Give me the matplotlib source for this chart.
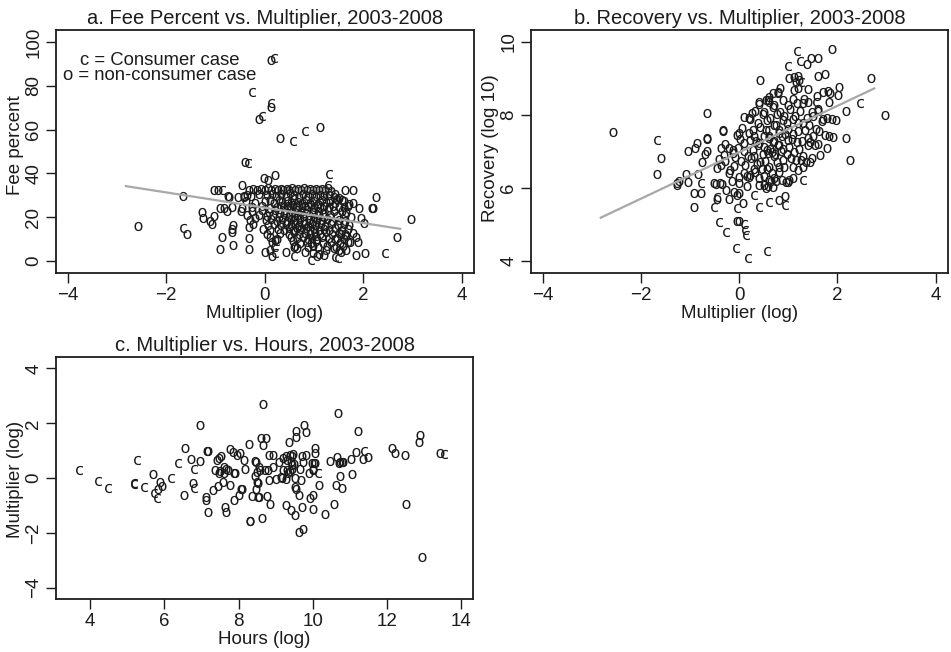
import matplotlib
matplotlib.use("Agg")
import matplotlib.pyplot as plt
import numpy as np

plt.rcParams["font.family"] = ["Liberation Sans", "DejaVu Sans"]

# ---- a. fee percent vs multiplier (log) ----
fee_o = [
    (-2.57, 16.0), (-1.66, 29.7), (-1.58, 12.3), (-1.04, 32.4), (-0.94, 32.4),
    (-1.28, 22.4), (-1.25, 19.5), (-1.12, 18.3), (-1.08, 17.1), (-1.03, 20.6),
    (-0.91, 24.4), (-0.82, 24.4), (-0.75, 29.6), (-0.73, 29.0), (-0.67, 24.5),
    (-0.76, 22.8), (-0.86, 10.9), (-0.90, 5.6), (-0.65, 7.3), (-0.67, 14.4),
    (-0.65, 16.2), (-0.66, 13.4), (-0.46, 34.6), (-0.33, 10.6), (-0.33, 5.6),
    (-0.33, 15.3), (-0.54, 29.4), (-0.43, 29.4), (-0.47, 24.2), (-0.40, 45.4),
    (0.12, 92.0), (0.13, 70.5), (-0.12, 64.8), (1.12, 61.2), (0.30, 56.3),
    (0.20, 39.4), (-0.02, 37.7), (0.07, 37.0), (2.97, 19.2), (2.68, 11.0),
    (2.26, 29.2), (2.17, 24.4), (2.19, 24.0), (2.03, 3.7), (2.01, 17.2),
    (1.96, 19.5), (1.91, 24.2), (1.86, 11.0), (1.90, 8.8), (1.85, 2.9),
    (1.79, 26.3), (1.79, 32.4), (1.63, 32.4), (0.15, 2.1), (0.43, 4.3),
    (0.01, 4.3), (0.10, 5.0), (0.81, 4.3), (0.98, 3.6), (1.07, 2.3),
    (1.10, 3.2), (1.20, 2.6), (1.55, 4.0), (1.65, 4.8), (1.69, 8.8),
    (1.66, 11.5), (1.55, 12.5), (1.42, 10.2), (1.40, 6.0), (1.50, 5.2),
    (0.62, 6.8), (0.65, 5.9), (1.25, 5.0),
    # 33% band
    (-0.32, 32.6), (-0.24, 33.0), (-0.16, 32.4), (-0.08, 32.8), (0.00, 32.3),
    (0.07, 33.1), (0.13, 32.5), (0.20, 32.9), (0.26, 32.4), (0.32, 33.0),
    (0.38, 32.6), (0.45, 32.9), (0.50, 32.3), (0.56, 33.1), (0.62, 32.5),
    (0.68, 32.8), (0.74, 32.4), (0.80, 33.2), (0.86, 32.6), (0.92, 32.9),
    (0.98, 32.4), (1.04, 33.0), (1.10, 32.5), (1.16, 32.8), (1.22, 32.3),
    (1.28, 33.4), (1.34, 31.8), (1.42, 30.5),
    # around 30%
    (-0.42, 29.8), (-0.36, 30.3), (-0.28, 29.5), (-0.12, 30.6), (0.05, 29.9),
    (0.14, 30.8), (0.22, 29.6), (0.34, 30.4), (0.44, 29.7), (0.52, 30.9),
    (0.60, 30.1), (0.70, 29.4), (0.78, 30.6), (0.88, 29.8), (0.96, 30.4),
    (1.04, 29.5), (1.12, 30.2), (1.20, 29.7), (1.30, 30.3), (1.40, 29.2),
    (1.50, 28.6), (1.56, 27.8),
    (-0.38, 27.6), (-0.20, 26.6), (0.00, 27.2), (0.10, 28.0), (0.18, 26.4),
    (0.28, 27.9), (0.36, 26.8), (0.46, 27.6), (0.54, 26.5), (0.60, 28.2),
    (0.68, 27.0), (0.76, 26.3), (0.84, 27.8), (0.92, 26.7), (1.00, 27.4),
    (1.08, 26.2), (1.16, 27.9), (1.24, 26.8), (1.32, 27.5), (1.42, 26.4),
    (1.60, 27.2), (1.72, 26.0), (1.46, 28.3),
    # 25% band
    (0.24, 24.8), (0.32, 25.3), (0.40, 24.6), (0.47, 25.1), (0.52, 24.5),
    (0.58, 25.4), (0.63, 24.8), (0.70, 25.2), (0.76, 24.6), (0.82, 25.3),
    (0.88, 24.9), (0.94, 25.4), (1.00, 24.7), (1.06, 25.1), (1.12, 24.4),
    (1.20, 25.2), (1.30, 24.6), (1.38, 25.3), (1.50, 24.5), (1.60, 24.8),
    (1.70, 25.2), (-0.05, 25.0), (0.10, 24.2), (-0.25, 24.8),
    (-0.48, 23.0), (-0.26, 22.6), (-0.06, 23.4), (0.08, 22.2), (0.20, 23.2),
    (0.30, 22.0), (0.42, 23.5), (0.56, 22.4), (0.66, 23.1), (0.74, 22.2),
    (0.86, 23.3), (0.98, 22.5), (1.08, 23.0), (1.18, 22.1), (1.28, 23.4),
    (1.40, 22.6), (1.56, 23.0), (1.66, 22.2),
    (-0.36, 20.8), (-0.12, 21.2), (0.04, 20.4), (0.16, 21.0), (0.28, 20.2),
    (0.40, 21.3), (0.50, 20.6), (0.60, 20.0), (0.68, 21.1), (0.78, 20.4),
    (0.90, 21.2), (1.00, 20.3), (1.10, 20.9), (1.20, 20.1), (1.32, 21.0),
    (1.46, 20.4), (1.62, 20.8), (1.76, 20.2),
    (-0.30, 18.8), (-0.20, 19.4), (0.02, 18.6), (0.12, 19.2), (0.24, 18.4),
    (0.36, 19.0), (0.46, 18.2), (0.54, 19.3), (0.62, 18.6), (0.72, 19.1),
    (0.80, 18.3), (0.90, 18.9), (0.98, 18.1), (1.06, 19.2), (1.16, 18.5),
    (1.26, 19.0), (1.36, 18.2), (1.50, 18.8), (1.64, 18.4),
    (-0.24, 16.8), (0.06, 16.4), (0.18, 17.0), (0.32, 16.2), (0.44, 16.9),
    (0.54, 16.3), (0.62, 17.2), (0.70, 16.5), (0.80, 16.9), (0.88, 16.1),
    (0.96, 17.0), (1.04, 16.4), (1.14, 16.8), (1.22, 16.0), (1.34, 16.7),
    (1.48, 16.2), (1.60, 16.9), (1.72, 16.4),
    (-0.04, 14.6), (0.10, 14.2), (0.26, 14.8), (0.40, 14.3), (0.50, 15.0),
    (0.58, 14.2), (0.66, 14.9), (0.74, 14.4), (0.84, 15.0), (0.92, 14.2),
    (1.00, 14.7), (1.10, 14.1), (1.20, 14.8), (1.30, 14.3), (1.42, 14.9),
    (1.56, 14.2), (1.70, 14.6),
    (0.04, 12.4), (0.30, 12.8), (0.50, 12.2), (0.60, 13.0), (0.70, 12.4),
    (0.82, 12.9), (0.92, 12.2), (1.02, 12.8), (1.12, 12.3), (1.24, 13.0),
    (1.36, 12.4), (1.50, 12.9), (1.62, 12.2), (1.80, 12.6),
    (0.10, 10.8), (0.24, 10.2), (0.54, 10.9), (0.66, 10.3), (0.78, 10.8),
    (0.88, 10.1), (0.96, 10.7), (1.06, 10.2), (1.16, 10.8), (1.30, 10.3),
    (1.46, 10.7), (1.60, 10.1),
    (0.14, 8.6), (0.20, 9.4), (0.58, 8.9), (0.72, 8.3), (0.86, 8.8),
    (0.94, 8.2), (1.04, 8.9), (1.18, 8.4), (1.34, 8.8), (1.52, 8.3),
    (1.74, 8.6),
    (0.60, 6.6), (0.88, 6.3), (0.98, 6.9), (1.08, 6.4), (1.26, 6.8),
    (1.44, 6.2), (1.58, 6.7),
]
fee_c = [
    (0.19, 92.5), (-0.26, 77.3), (0.13, 72.0), (-0.05, 66.4), (0.81, 59.4),
    (0.57, 54.8), (-0.35, 44.7), (1.30, 39.6), (1.29, 34.7), (-0.87, 32.4),
    (-1.67, 15.1), (2.45, 3.8), (1.49, 1.5), (0.93, 0.5), (0.60, 2.3),
    (0.19, 6.2), (0.20, 3.6), (1.43, 1.8), (0.22, 9.0), (1.02, 11.6),
]

# ---- b. recovery (log 10) vs multiplier (log) ----
rec_o = [
    (-2.58, 7.53), (-1.60, 6.83), (-1.67, 6.38), (-1.27, 6.07), (-1.27, 6.15),
    (-1.23, 6.18), (-1.04, 6.17), (-1.09, 6.38), (-1.04, 7.01), (-0.90, 7.09),
    (-0.87, 7.24), (-0.93, 5.85), (-0.77, 5.85), (-0.93, 5.48), (-0.66, 8.05),
    (-0.66, 7.36), (-0.66, 7.00), (-0.70, 6.93), (-0.75, 6.72), (-0.83, 6.38),
    (-0.33, 7.57), (-0.52, 6.15), (-0.46, 5.70), (-0.05, 5.10), (0.00, 5.10),
    (0.07, 5.58), (0.81, 5.67), (0.93, 5.78), (1.10, 6.26), (1.00, 6.17),
    (2.25, 6.77), (2.97, 8.00), (2.68, 9.01), (2.18, 8.11), (2.17, 7.38),
    (2.01, 8.55), (2.03, 8.76), (1.96, 7.86), (1.88, 9.80), (1.90, 7.39),
    (1.74, 9.12), (1.61, 9.07), (1.61, 9.55), (1.47, 9.55), (1.38, 9.40),
    (0.42, 8.96), (1.15, 8.90), (1.12, 9.05), (1.20, 8.75), (1.80, 8.65),
    (1.85, 8.60), (1.75, 7.45), (1.78, 7.10), (1.65, 6.90), (1.45, 6.70),
    (1.35, 6.70), (1.45, 7.25), (1.60, 7.20), (1.70, 7.90), (1.60, 8.10),
    (0.55, 6.00), (0.58, 6.05), (0.75, 6.20), (0.22, 6.35), (0.15, 6.05),
    (0.00, 5.85), (-0.05, 5.80), (-0.10, 5.90), (-0.20, 5.70), (-0.28, 5.95),
    (-0.35, 6.10), (-0.40, 6.15), (-0.45, 6.55), (-0.42, 6.80), (-0.38, 7.10),
    (-0.30, 7.20), (-0.20, 7.10), (-0.12, 6.95), (-0.10, 6.60), (0.68, 8.60),
    (0.78, 8.60), (0.60, 8.35), (0.55, 8.40), (0.40, 8.30), (0.32, 8.10),
    (0.25, 8.05), (0.10, 7.95), (0.05, 7.65), (-0.05, 7.45), (0.00, 7.50),
    (-0.33, 7.59), (-0.66, 7.33),
    # core of the cloud
    (-0.47, 6.10), (-0.31, 6.90), (-0.37, 6.62), (-0.20, 6.40), (-0.30, 6.75),
    (-0.12, 7.05), (-0.18, 6.50), (-0.14, 6.20), (-0.02, 7.10), (-0.09, 6.85),
    (0.00, 6.30), (0.01, 7.35), (0.09, 7.02), (0.03, 6.73), (0.10, 6.42),
    (0.00, 6.13), (0.20, 7.50), (0.10, 7.22), (0.18, 6.88), (0.12, 6.62),
    (0.16, 6.33), (0.20, 7.92), (0.22, 7.90), (0.28, 7.58), (0.21, 7.32),
    (0.29, 7.03), (0.24, 6.82), (0.30, 6.53), (0.20, 6.31), (0.38, 7.77),
    (0.31, 7.43), (0.39, 7.17), (0.30, 6.88), (0.37, 6.67), (0.33, 6.43),
    (0.40, 6.27), (0.34, 7.28), (0.41, 8.35), (0.49, 8.02), (0.43, 7.68),
    (0.50, 7.43), (0.40, 7.22), (0.48, 6.93), (0.42, 6.72), (0.46, 6.52),
    (0.50, 6.33), (0.41, 6.08), (0.59, 8.42), (0.51, 8.08), (0.57, 7.87),
    (0.54, 7.58), (0.60, 7.37), (0.50, 7.13), (0.58, 6.97), (0.52, 6.73),
    (0.56, 6.52), (0.60, 6.23), (0.51, 6.07), (0.57, 7.03), (0.61, 8.48),
    (0.69, 8.22), (0.63, 7.93), (0.70, 7.72), (0.60, 7.43), (0.68, 7.27),
    (0.62, 7.08), (0.66, 6.98), (0.70, 6.87), (0.61, 6.58), (0.67, 6.42),
    (0.64, 6.18), (0.69, 6.02), (0.79, 8.62), (0.71, 8.28), (0.77, 8.02),
    (0.74, 7.73), (0.80, 7.52), (0.70, 7.28), (0.78, 7.17), (0.72, 6.93),
    (0.76, 6.72), (0.80, 6.43), (0.71, 6.27), (0.82, 8.73), (0.89, 8.42),
    (0.83, 8.08), (0.90, 7.87), (0.80, 7.58), (0.88, 7.42), (0.81, 7.18),
    (0.86, 7.02), (0.90, 6.78), (0.81, 6.57), (0.87, 6.22), (0.99, 8.27),
    (0.91, 7.98), (0.97, 7.77), (0.94, 7.48), (1.00, 7.32), (0.90, 7.08),
    (0.98, 6.92), (0.92, 6.58), (0.96, 6.17), (1.01, 9.02), (1.09, 8.43),
    (1.03, 8.17), (1.10, 7.88), (1.00, 7.62), (1.08, 7.33), (1.02, 7.12),
    (1.06, 6.83), (1.10, 6.57), (1.01, 6.23), (1.19, 9.07), (1.11, 8.68),
    (1.17, 8.32), (1.14, 7.98), (1.20, 7.77), (1.10, 7.48), (1.18, 7.27),
    (1.12, 6.98), (1.16, 6.77), (1.20, 6.48), (1.21, 8.97), (1.29, 8.33),
    (1.23, 8.12), (1.30, 7.78), (1.20, 7.57), (1.28, 7.28), (1.22, 7.07),
    (1.26, 6.78), (1.30, 6.57), (1.39, 8.72), (1.31, 8.43), (1.37, 7.92),
    (1.34, 7.58), (1.40, 7.37), (1.30, 6.88), (1.41, 8.37), (1.49, 8.08),
    (1.43, 7.72), (1.50, 7.43), (1.40, 7.17), (1.48, 6.83), (1.59, 8.52),
    (1.51, 7.98), (1.57, 7.62), (1.54, 7.18), (1.61, 8.17), (1.69, 7.83),
    (1.63, 7.57), (1.71, 8.62), (1.79, 7.93), (1.82, 8.37), (1.89, 7.88),
    (1.83, 7.42),
]
rec_c = [
    (-1.67, 7.32), (-0.77, 6.13), (-0.51, 5.49), (-0.46, 5.76), (-0.41, 5.08),
    (-0.28, 4.80), (-0.07, 4.35), (-0.05, 5.44), (0.10, 5.00), (0.12, 4.85),
    (0.13, 4.71), (0.18, 4.09), (0.57, 4.26), (0.30, 5.81), (0.40, 5.49),
    (0.60, 5.61), (0.94, 5.53), (1.30, 6.22), (2.45, 8.32), (1.18, 9.75),
    (1.00, 9.34), (1.23, 9.48), (1.26, 8.91), (1.56, 8.36), (0.59, 7.59),
]

# ---- c. multiplier (log) vs hours (log) ----
hrs_o = [
    (5.69, 0.16), (5.87, -0.13), (5.95, -0.30), (5.83, -0.38), (6.57, 1.11),
    (6.71, 0.69), (6.77, -0.16), (6.53, -0.62), (6.97, 1.93), (6.96, 0.62),
    (7.14, 0.99), (7.19, 0.99), (7.12, -0.69), (7.12, -0.80), (7.17, -1.25),
    (7.32, -0.44), (7.36, 0.28), (7.43, 0.66), (7.46, 0.72), (7.46, 0.19),
    (7.50, 0.26), (7.53, 0.82), (7.44, -0.28), (7.58, -0.13), (7.60, 0.40),
    (7.62, 0.17), (7.67, 0.35), (7.71, 0.31), (7.77, 1.08), (7.76, -0.26),
    (7.85, 0.96), (7.87, 0.17), (7.91, 0.17), (7.63, -1.05), (7.67, -1.25),
    (7.89, -0.80), (7.95, 0.86), (8.04, 0.92), (8.00, -0.62), (8.06, -0.38),
    (8.09, -0.38), (8.16, 0.66), (8.18, 0.32), (8.28, 1.24), (8.36, -0.64),
    (8.30, -1.56), (8.32, -1.56), (8.45, 0.62), (8.46, 0.60), (8.45, 0.09),
    (8.49, 0.23), (8.47, -0.38), (8.53, -0.19), (8.51, -0.13), (8.52, -0.70),
    (8.56, -0.70), (8.55, 0.41), (8.59, 0.29), (8.60, 1.45), (8.65, 1.20),
    (8.74, 1.48), (8.67, 2.69), (8.63, -1.44), (8.72, 0.29), (8.79, 0.29),
    (8.76, -0.64), (8.82, 0.83), (8.92, 0.86), (8.82, -0.07), (8.85, -0.96),
    (8.94, 0.40), (9.00, -0.05), (9.10, 0.57), (9.14, 0.05), (9.17, 0.01),
    (9.20, 0.72), (9.19, 0.29), (9.27, 0.82), (9.31, 0.66), (9.27, -0.99),
    (9.27, -0.05), (9.30, 0.29), (9.32, 0.17), (9.35, 1.33), (9.38, 0.84),
    (9.43, 0.81), (9.47, 0.89), (9.41, 0.57), (9.45, 0.48), (9.50, 0.53),
    (9.38, 0.26), (9.43, 0.35), (9.42, -1.17), (9.52, -1.33), (9.52, -0.32),
    (9.55, -0.38), (9.52, 0.00), (9.54, 1.72), (9.56, 1.51), (9.63, -0.62),
    (9.64, -1.96), (9.75, -1.87), (9.66, 0.35), (9.68, -0.07), (9.70, 0.80),
    (9.72, -1.05), (9.74, 0.60), (9.77, 1.93), (9.82, 1.69), (9.83, 0.84),
    (9.90, 0.19), (9.93, -0.74), (9.99, 0.55), (10.03, 0.55), (10.06, 0.54),
    (10.00, 0.29), (10.02, 0.32), (10.02, -0.62), (10.05, 1.11), (10.06, 0.92),
    (10.02, -1.14), (10.18, -0.26), (10.33, -1.30), (10.47, 0.62),
    (10.56, -0.96), (10.65, 0.78), (10.63, -0.26), (10.69, 2.38), (10.70, 0.55),
    (10.74, 0.60), (10.79, 0.57), (10.81, 0.60), (10.74, 0.09), (10.78, -0.35),
    (11.03, 0.68), (11.07, 0.16), (11.17, 0.94), (11.21, 1.72), (11.35, 0.68),
    (11.50, 0.78), (12.13, 1.11), (12.22, 0.90), (12.49, 0.84), (12.52, -0.95),
    (12.87, 1.33), (12.90, 1.57), (12.94, -2.87), (13.42, 0.92),
]
hrs_c = [
    (3.71, 0.29), (4.20, -0.10), (4.49, -0.35), (5.19, -0.17), (5.19, -0.20),
    (5.26, 0.66), (5.46, -0.34), (5.71, -0.56), (5.80, -0.71), (6.17, 0.00),
    (6.38, 0.54), (6.81, 0.33), (6.81, -0.35), (10.15, 0.17), (11.39, 1.00),
    (13.55, 0.89),
]

# least-squares lines shown in a and b: (intercept, slope) and x span
fit_a = (24.3, -3.5)
fit_b = (6.98, 0.636)
fit_span = (-2.82, 2.75)

INK = "#1c1c1c"
FS = 13.5


def style_axes(ax, xlim, ylim, xticks, yticks, xlabel, ylabel, title, ylab_y):
    ax.set_xlim(*xlim)
    ax.set_ylim(*ylim)
    ax.set_xticks(xticks)
    ax.set_yticks(yticks)
    ax.set_xlabel(xlabel, fontsize=FS, color=INK, labelpad=1)
    ax.set_ylabel(ylabel, fontsize=FS, color=INK, labelpad=0.5)
    ax.yaxis.label.set_y(ylab_y)
    ax.set_title(title, fontsize=14.5, color=INK, pad=4)
    ax.tick_params(direction="out", length=7, width=1, colors=INK,
                   labelsize=FS, pad=3)
    ax.tick_params(axis="y", labelrotation=90)
    for lab in ax.get_yticklabels():
        lab.set_verticalalignment("center")
    for sp in ax.spines.values():
        sp.set_linewidth(1.3)
        sp.set_color(INK)


def draw_points(ax, pts, glyph):
    arr = np.array(pts)
    ax.scatter(arr[:, 0], arr[:, 1], marker=r"$\mathsf{%s}$" % glyph, s=44,
               color=INK, linewidths=0, zorder=3)


def draw_fit(ax, fit):
    xs = np.array(fit_span)
    ax.plot(xs, fit[0] + fit[1] * xs, color="#a8a8a8", lw=1.6, zorder=4)


fig = plt.figure(figsize=(9.51, 6.52), dpi=100)
ax_a = fig.add_axes([0.0589, 0.5813, 0.4395, 0.3727])
ax_b = fig.add_axes([0.5584, 0.5813, 0.4384, 0.3727])
ax_c = fig.add_axes([0.0589, 0.0813, 0.4385, 0.3712])

draw_points(ax_a, fee_o, "o")
draw_points(ax_a, fee_c, "c")
draw_fit(ax_a, fit_a)
style_axes(ax_a, (-4.24, 4.25), (-5.5, 105.5), [-4, -2, 0, 2, 4],
           [0, 20, 40, 60, 80, 100], "Multiplier (log)", "Fee percent",
           "a. Fee Percent vs. Multiplier, 2003-2008", 0.527)
ax_a.text(0.247, 0.845, "c = Consumer case\no = non-consumer case",
          transform=ax_a.transAxes, ha="center", va="center",
          fontsize=13.3, color=INK, linespacing=0.85)

draw_points(ax_b, rec_o, "o")
draw_points(ax_b, rec_c, "c")
draw_fit(ax_b, fit_b)
style_axes(ax_b, (-4.24, 4.25), (3.67, 10.33), [-4, -2, 0, 2, 4],
           [4, 6, 8, 10], "Multiplier (log)", "Recovery (log 10)",
           "b. Recovery vs. Multiplier, 2003-2008", 0.515)

draw_points(ax_c, hrs_o, "o")
draw_points(ax_c, hrs_c, "c")
style_axes(ax_c, (3.08, 14.32), (-4.41, 4.42), [4, 6, 8, 10, 12, 14],
           [-4, -2, 0, 2, 4], "Hours (log)", "Multiplier (log)",
           "c. Multiplier vs. Hours, 2003-2008", 0.495)

fig.savefig("out.png", dpi=100, facecolor="white")
